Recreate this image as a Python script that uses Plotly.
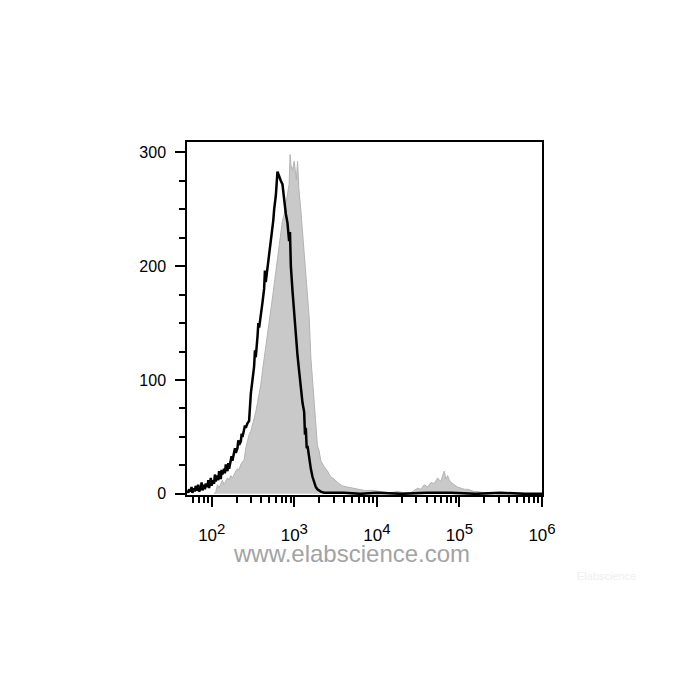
"""Flow-cytometry overlay histogram: isotype (gray, filled) vs. stained (black line)."""

import plotly.graph_objects as go

# fluorescence bins, read as log10 exponents off the picture
BLACK_LOGX = [1.705, 1.715, 1.725, 1.745, 1.755, 1.765, 1.785, 1.795, 1.805, 1.826,
              1.836, 1.846, 1.867, 1.877, 1.887, 1.907, 1.917, 1.927, 1.948, 1.958,
              1.968, 1.988, 1.998, 2.008, 2.028, 2.038, 2.048, 2.069, 2.079, 2.089,
              2.109, 2.119, 2.129, 2.149, 2.159, 2.170, 2.190, 2.200, 2.210, 2.230,
              2.240, 2.250, 2.271, 2.281, 2.291, 2.311, 2.321, 2.331, 2.352, 2.362,
              2.372, 2.392, 2.402, 2.412, 2.432, 2.452, 2.463, 2.473, 2.493, 2.513,
              2.523, 2.533, 2.554, 2.564, 2.574, 2.594, 2.614, 2.634, 2.644, 2.654,
              2.675, 2.695, 2.715, 2.735, 2.745, 2.756, 2.776, 2.796, 2.806, 2.816,
              2.836, 2.856, 2.877, 2.897, 2.917, 2.937, 2.947, 2.958, 2.978, 2.998,
              3.018, 3.038, 3.058, 3.079, 3.099, 3.119, 3.129, 3.139, 3.150, 3.160,
              3.180, 3.200, 3.220, 3.240, 3.260, 3.280, 3.320, 3.360, 3.450, 3.600,
              3.800, 4.000, 4.300, 4.600, 4.900, 5.200, 5.500, 5.800, 6.000]
BLACK_COUNT = [3, 1, 4, 2, 6, 1, 5, 2, 7, 3,
               8, 2, 5, 10, 3, 8, 4, 9, 6, 12,
               5, 14, 7, 12, 9, 17, 11, 16, 12, 20,
               13, 21, 17, 22, 18, 26, 20, 27, 22, 28,
               33, 29, 35, 40, 36, 40, 47, 43, 46, 53,
               50, 56, 60, 58, 62, 64, 86, 88, 100, 112,
               126, 120, 138, 150, 146, 160, 168, 180, 196, 186,
               198, 208, 220, 232, 240, 250, 262, 283, 281, 278,
               275, 272, 258, 246, 238, 222, 230, 200, 178, 158,
               140, 122, 108, 90, 80, 72, 52, 58, 40, 42,
               30, 22, 15, 10, 6, 4, 2, 1, 1, 1,
               0, 1, 0, 1, 1, 0, 1, 0, 0]

GRAY_LOGX = [2.030, 2.050, 2.069, 2.089, 2.109, 2.129, 2.149, 2.170, 2.190, 2.210,
             2.230, 2.250, 2.271, 2.291, 2.311, 2.331, 2.352, 2.372, 2.392, 2.412,
             2.432, 2.452, 2.473, 2.493, 2.513, 2.533, 2.554, 2.574, 2.594, 2.614,
             2.634, 2.654, 2.675, 2.695, 2.715, 2.735, 2.756, 2.776, 2.796, 2.816,
             2.836, 2.856, 2.877, 2.897, 2.917, 2.937, 2.949, 2.960, 2.978, 2.998,
             3.010, 3.025, 3.039, 3.055, 3.079, 3.099, 3.119, 3.139, 3.160, 3.180,
             3.200, 3.220, 3.240, 3.261, 3.280, 3.300, 3.321, 3.360, 3.402, 3.440,
             3.483, 3.524, 3.580, 3.640, 3.700, 3.766, 3.850, 3.950, 4.050, 4.150,
             4.250, 4.331, 4.412, 4.453, 4.493, 4.533, 4.574, 4.614, 4.655, 4.695,
             4.736, 4.756, 4.776, 4.796, 4.816, 4.836, 4.857, 4.877, 4.897, 4.937,
             4.977, 5.018, 5.060, 5.100, 5.140, 5.180, 5.220, 5.300, 5.500, 6.000]
GRAY_COUNT = [0, 2, 8, 5, 9, 12, 8, 11, 14, 12,
              16, 14, 18, 20, 22, 21, 26, 28, 30, 40,
              46, 52, 55, 60, 67, 72, 80, 88, 96, 108,
              118, 128, 142, 150, 160, 172, 184, 196, 205, 215,
              228, 240, 245, 255, 262, 272, 298, 288, 284, 292,
              285, 276, 292, 268, 249, 231, 212, 190, 172, 155,
              120, 100, 85, 55, 42, 38, 29, 24, 20, 15,
              13, 10, 7, 6, 5, 4, 3, 3, 2, 1,
              2, 1, 1, 3, 5, 4, 8, 6, 10, 9,
              14, 12, 11, 16, 20, 13, 16, 12, 10, 8,
              6, 5, 4, 4, 3, 2, 2, 1, 0, 0]

X_TICKS = [100, 1000, 10000, 100000, 1000000]
X_EXPONENTS = ["2", "3", "4", "5", "6"]
Y_TICKS = [0, 100, 200, 300]

minor_x = [k * 10 ** d for d in range(1, 6) for k in range(2, 10) if k * 10 ** d > 50]
x_ticktext = [f"10<sup><span style='font-size:15px'>{e}</span></sup>" for e in X_EXPONENTS]

fig = go.Figure()
fig.add_trace(go.Scatter(
    x=[10 ** v for v in GRAY_LOGX], y=GRAY_COUNT, mode="lines", fill="tozeroy",
    fillcolor="#c9c9c9", line=dict(color="#b3b3b3", width=1), hoverinfo="skip",
))
fig.add_trace(go.Scatter(
    x=[10 ** v for v in BLACK_LOGX], y=BLACK_COUNT, mode="lines",
    line=dict(color="black", width=2.5), hoverinfo="skip",
))

axis_common = dict(
    showline=True, linecolor="black", linewidth=1.5, mirror=True, showgrid=False,
    zeroline=False, ticks="outside", tickcolor="black", tickwidth=2, ticklen=10,
)
fig.update_xaxes(
    type="log", range=[1.70, 6.0], tickmode="array", tickvals=X_TICKS, ticktext=x_ticktext,
    ticklabelstandoff=14, tickfont=dict(family="Liberation Sans, Arial", size=17, color="black"),
    minor=dict(tickmode="array", tickvals=minor_x, ticks="outside", ticklen=6,
               tickwidth=2, tickcolor="black"),
    **axis_common,
)
fig.update_yaxes(
    range=[-1, 309], tickmode="array", tickvals=Y_TICKS, ticklabelstandoff=6,
    tickfont=dict(family="Liberation Sans, Arial", size=16, color="black"),
    minor=dict(dtick=25, ticks="outside", ticklen=6, tickwidth=1.5, tickcolor="black"),
    **axis_common,
)

# watermarks
fig.add_annotation(
    text="www.elabscience.com", xref="paper", yref="paper", x=0.462, y=-0.165,
    yanchor="middle", showarrow=False,
    font=dict(family="Liberation Sans, Arial", size=24, color="#a3a3a3"),
)
fig.add_annotation(
    text="Elabscience", xref="paper", yref="paper", x=1.27, y=-0.23,
    yanchor="middle", showarrow=False,
    font=dict(family="Liberation Sans, Arial", size=11, color="#eeeeee"),
)

fig.update_layout(
    width=700, height=700, showlegend=False,
    margin=dict(l=179, r=166, t=134, b=213),
    paper_bgcolor="white", plot_bgcolor="white",
)
fig.write_html("out.html")
